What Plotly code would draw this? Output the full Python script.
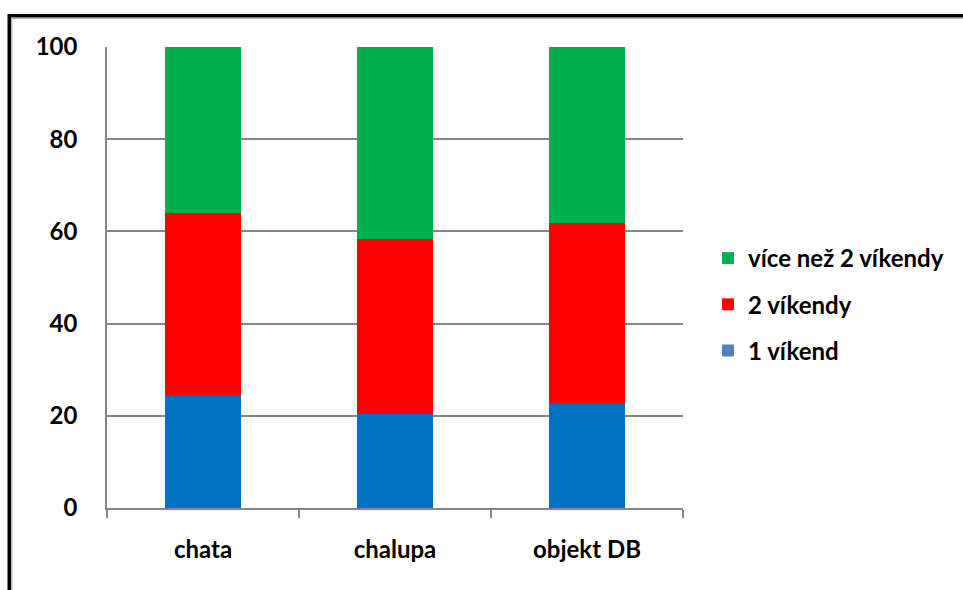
import plotly.graph_objects as go

# Share of stays by length, per type of recreational building (percent)
categories = ["chata", "chalupa", "objekt DB"]
series_names = ["1 víkend", "2 víkendy", "více než 2 víkendy"]
one_weekend = [24.5, 20.4, 22.8]
two_weekends = [39.5, 38.0, 39.0]
more_weekends = [36.0, 41.6, 38.2]
y_ticks = [0, 20, 40, 60, 80, 100]

bar_colors = ["#0070C0", "#FF0000", "#00B050"]
legend_colors = ["#4F81BD", "#FF0000", "#00B050"]
legend_ranks = [3000, 2000, 1000]

W, H = 963, 590
L, R, T, B = 107, 280, 47, 82
pw, ph = W - L - R, H - T - B

font = dict(family="Lato", size=24, color="#000000", weight="bold")

fig = go.Figure()
for name, vals, bc, lc, rank in zip(series_names,
                                    [one_weekend, two_weekends, more_weekends],
                                    bar_colors, legend_colors, legend_ranks):
    fig.add_trace(go.Bar(x=categories, y=vals, name=name, marker_color=bc,
                         marker_line_width=0, width=0.4, showlegend=False,
                         legendgroup=name, legendrank=rank))
    # legend swatch entry
    fig.add_trace(go.Bar(x=[None], y=[None], name=name, marker_color=lc,
                         marker_line_width=0, legendgroup=name,
                         legendrank=rank, showlegend=True))


def px_x(px):
    return (px - L) / pw


def px_y(py):
    return (H - B - py) / ph


# outer frame (black with a thin gray inner edge)
fig.add_shape(type="rect", xref="paper", yref="paper",
              x0=px_x(9.3), x1=px_x(990), y0=px_y(15.8), y1=px_y(620),
              line=dict(color="#000000", width=3.6), fillcolor="rgba(0,0,0,0)")
fig.add_shape(type="rect", xref="paper", yref="paper",
              x0=px_x(11.8), x1=px_x(990), y0=px_y(18.3), y1=px_y(620),
              line=dict(color="#A0A0A0", width=1), fillcolor="rgba(0,0,0,0)")

fig.update_layout(
    width=W, height=H,
    margin=dict(l=L, r=R, t=T, b=B, pad=0),
    barmode="stack",
    bargap=0.6,
    paper_bgcolor="#FFFFFF",
    plot_bgcolor="#FFFFFF",
    font=font,
    showlegend=True,
    legend=dict(x=px_x(708), y=px_y(236), xanchor="left", yanchor="top",
                traceorder="grouped", tracegroupgap=12,
                font=font, bgcolor="rgba(0,0,0,0)"),
    xaxis=dict(showline=True, linecolor="#868686", linewidth=1.5,
               ticks="outside", ticklen=8, tickcolor="#868686", tickwidth=1.5,
               tickson="boundaries", showgrid=False,
               ticklabelstandoff=19, tickfont=font),
    yaxis=dict(range=[0, 100], tickvals=y_ticks, showline=True,
               linecolor="#868686", linewidth=1.5, showgrid=True,
               gridcolor="#868686", gridwidth=1.5, zeroline=False,
               ticks="", ticklabelstandoff=23, tickfont=font),
)

fig.write_html("out.html")
